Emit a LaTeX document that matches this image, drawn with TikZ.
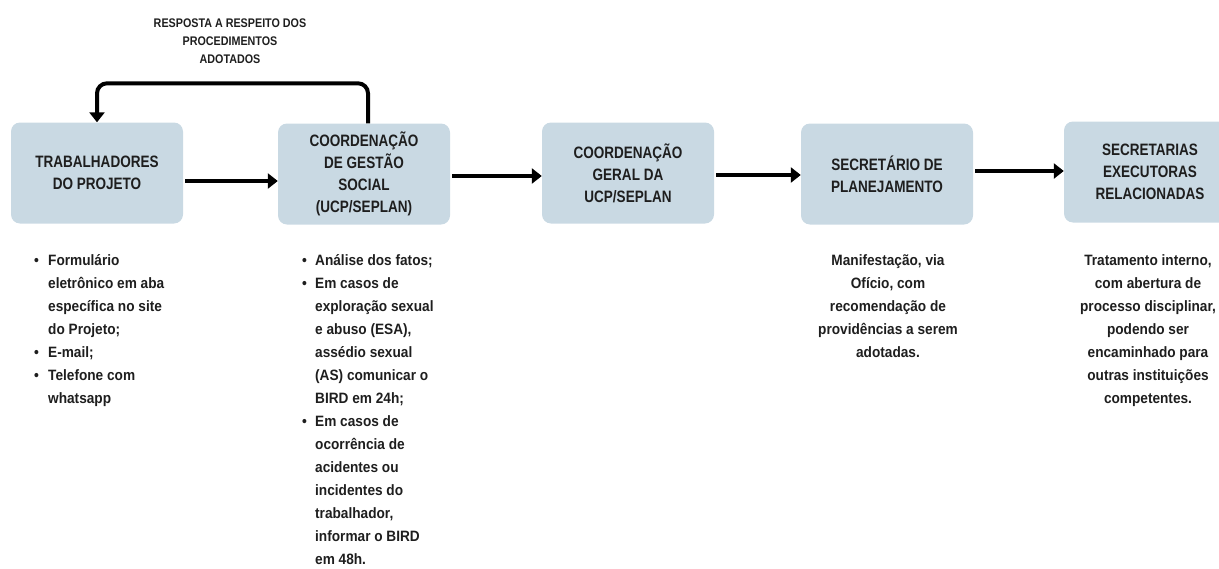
\documentclass[tikz,border=0pt]{standalone}
\usepackage{fontspec}
\usepackage{xcolor}
\usetikzlibrary{arrows.meta}
\setmainfont{Liberation Sans}
\newfontfamily\caixafonte{Liberation Sans}[FakeStretch=0.82]
\newfontfamily\notafonte{Liberation Sans}[FakeStretch=0.91]
\newfontfamily\rotulofonte{Liberation Sans}[FakeStretch=0.86]
\definecolor{caixa}{RGB}{201,217,227}
\definecolor{texto}{RGB}{30,30,30}

\begin{document}
\begin{tikzpicture}[
      x=1pt, y=-1pt,
      etapa/.style={rectangle, rounded corners=9pt, fill=caixa, minimum width=172pt,
        minimum height=101pt, align=center, text=texto,
        font=\caixafonte\bfseries\fontsize{16.5}{22}\selectfont},
      seta/.style={line width=4pt, shorten <=2pt, -{Triangle[length=10pt,width=15pt]}},
      nota/.style={inner sep=0pt, text=texto, font=\notafonte\bfseries\fontsize{15}{23}\selectfont}
    ]
    \useasboundingbox (0,0) rectangle (1219,568);
    % etapas
    \node[etapa] (trab) at (97,173) {TRABALHADORES\\DO PROJETO};
    \node[etapa] (cgs) at (364,174) {COORDENAÇÃO\\DE GESTÃO\\SOCIAL\\(UCP/SEPLAN)};
    \node[etapa] (cg) at (628,173) {COORDENAÇÃO\\GERAL DA\\UCP/SEPLAN};
    \node[etapa] (sec) at (887,174) {SECRETÁRIO DE\\PLANEJAMENTO};
    \node[etapa] (exec) at (1150,172) {SECRETARIAS\\EXECUTORAS\\RELACIONADAS};
    % setas
    \draw[seta] ([yshift=-8pt]trab.east) -- ([yshift=-8pt]trab.east -| cgs.west);
    \draw[seta] ([yshift=-2pt]cgs.east) -- ([yshift=-2pt]cgs.east -| cg.west);
    \draw[seta] ([yshift=-2pt]cg.east) -- ([yshift=-2pt]cg.east -| sec.west);
    \draw[seta] ([yshift=3pt]sec.east) -- ([yshift=3pt]sec.east -| exec.west);
    \draw[seta, shorten <=0pt, rounded corners=10pt] ([xshift=4pt]cgs.north) |- ([yshift=39pt]trab.north) -- (trab.north);
    \node[inner sep=0pt, anchor=base, text=texto, font=\rotulofonte\bfseries\fontsize{12.5}{18}\selectfont] (resp) at (230,27)
      {\begin{tabular}[t]{@{}c@{}}RESPOSTA A RESPEITO DOS\\PROCEDIMENTOS\\ADOTADOS\end{tabular}};
    % textos
    \node[nota, anchor=base west] (canais) at (34,265)
      {\begin{tabular}[t]{@{}p{14pt}@{}l@{}}
        \textbullet & Formulário\\
        & eletrônico em aba\\
        & específica no site\\
        & do Projeto;\\
        \textbullet & E-mail;\\
        \textbullet & Telefone com\\
        & whatsapp
      \end{tabular}};
    \node[nota, anchor=base west] (analise) at (302,265)
      {\begin{tabular}[t]{@{}p{13pt}@{}l@{}}
        \textbullet & Análise dos fatos;\\
        \textbullet & Em casos de\\
        & exploração sexual\\
        & e abuso (ESA),\\
        & assédio sexual\\
        & (AS) comunicar o\\
        & BIRD em 24h;\\
        \textbullet & Em casos de\\
        & ocorrência de\\
        & acidentes ou\\
        & incidentes do\\
        & trabalhador,\\
        & informar o BIRD\\
        & em 48h.
      \end{tabular}};
    \node[nota, anchor=base] (manif) at (888,265)
      {\begin{tabular}[t]{@{}c@{}}Manifestação, via\\Ofício, com\\recomendação de\\providências a serem\\adotadas.\end{tabular}};
    \node[nota, anchor=base] (trat) at (1148,265)
      {\begin{tabular}[t]{@{}c@{}}Tratamento interno,\\com abertura de\\processo disciplinar,\\podendo ser\\encaminhado para\\outras instituições\\competentes.\end{tabular}};
    \end{tikzpicture}
\end{document}
